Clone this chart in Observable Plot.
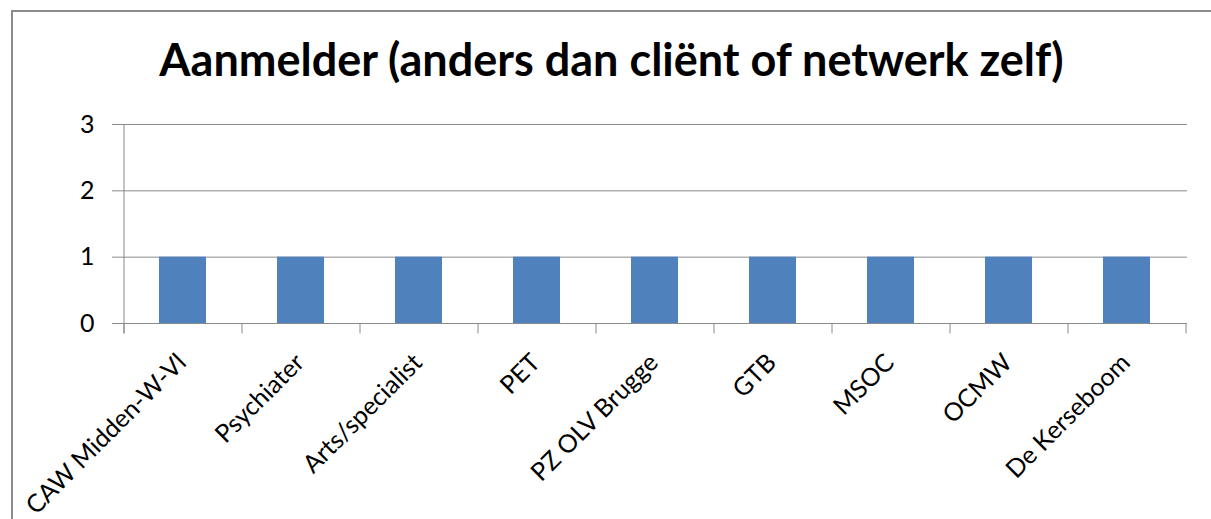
<!DOCTYPE html>
<html>
<head>
<meta charset="utf-8">
<script src="https://cdn.jsdelivr.net/npm/d3@7"></script>
<script src="https://cdn.jsdelivr.net/npm/@observablehq/plot@0.6"></script>
<style>
  html, body { margin: 0; padding: 0; background: #fff; }
  #wrap { position: relative; width: 1211px; height: 519px; overflow: hidden; }
  #frame { position: absolute; left: 11px; top: 10px; width: 1400px; height: 700px;
           border-left: 2px solid #8c8c8c; border-top: 2px solid #8c8c8c; }
  #title { position: absolute; left: 0; top: 37px; width: 1223px; text-align: center;
           font-family: Lato, sans-serif; font-weight: bold; font-size: 45px; line-height: 1;
           color: #000; white-space: nowrap; }
  #chart { position: absolute; left: 0; top: 0; }
</style>
</head>
<body>
<div id="wrap">
  <div id="frame"></div>
  <div id="chart"></div>
  <div id="title">Aanmelder (anders dan cliënt of netwerk zelf)</div>
</div>
<script>
const categories = ["CAW Midden-W-Vl", "Psychiater", "Arts/specialist", "PET", "PZ OLV Brugge", "GTB", "MSOC", "OCMW", "De Kerseboom"];
const values = [1, 1, 1, 1, 1, 1, 1, 1, 1];
const yTicks = [0, 1, 2, 3];

const data = categories.map((c, i) => ({cat: c, value: values[i]}));
const gridColor = "#8a8a8a";
const font = "Lato, sans-serif";

function bandTicks(index, scales) {
  const x = scales.x, y = scales.y;
  const step = x.step(), bw = x.bandwidth();
  const bounds = categories.map(c => x(c) + bw / 2 - step / 2);
  bounds.push(x(categories[categories.length - 1]) + bw / 2 + step / 2);
  const y0 = y(0);
  const g = d3.create("svg:g").attr("stroke", gridColor).attr("stroke-width", 1)
    .attr("transform", "translate(0.5,0.5)");
  g.selectAll("line.t").data(bounds).join("line")
    .attr("x1", d => d).attr("x2", d => d).attr("y1", y0).attr("y2", y0 + 10);
  g.append("line").attr("x1", bounds[0]).attr("x2", bounds[0])
    .attr("y1", y(d3.max(yTicks))).attr("y2", y0 + 10);
  return g.node();
}

const plot = Plot.plot({
  width: 1211,
  height: 519,
  marginLeft: 122,
  marginRight: 24,
  marginTop: 124,
  marginBottom: 196,
  style: {fontFamily: font, background: "transparent"},
  x: {domain: categories, paddingInner: 0.6, paddingOuter: 0.3, axis: null},
  y: {domain: [0, 3], ticks: yTicks, axis: null},
  marks: [
    Plot.ruleY(yTicks, {stroke: gridColor, strokeWidth: 1, insetLeft: -10}),
    Plot.barY(data, {x: "cat", y: "value", fill: "#4F81BD"}),
    bandTicks,
    Plot.axisY({ticks: yTicks, label: null, tickSize: 0, tickPadding: 28, fontSize: 25, fill: "#000", tickFormat: d3.format("d")}),
    Plot.text(data, {x: "cat", y: 0, text: "cat", rotate: -45, textAnchor: "end", lineAnchor: "middle",
      dx: -1, dy: 35, fontSize: 25, fill: "#000"})
  ]
});
document.getElementById("chart").appendChild(plot);
</script>
</body>
</html>
